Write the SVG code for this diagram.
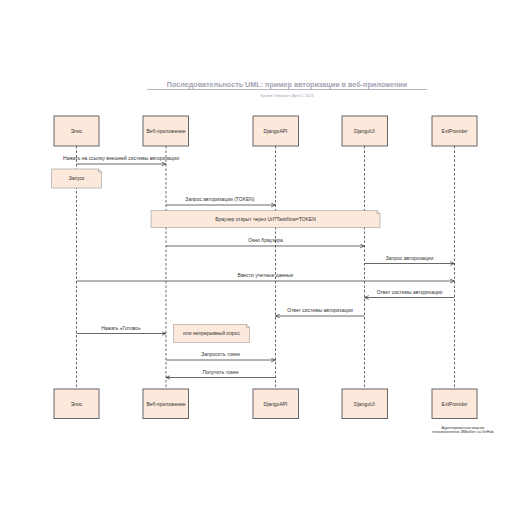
<svg xmlns="http://www.w3.org/2000/svg" width="516" height="516" viewBox="0 0 516 516">
<defs>
<style>
text{font-family:"Liberation Sans",Arial,sans-serif;fill:#333;}
.box{fill:#fde9dc;stroke:#666;stroke-width:1;}
.note{fill:#fde9dc;stroke:#999;stroke-width:0.6;}
.lbl{font-size:5px;text-anchor:middle;}
.msg{font-size:5px;text-anchor:middle;}
.life{stroke:#444;stroke-width:0.8;stroke-dasharray:2.5,2;fill:none;}
.arr{stroke:#444;stroke-width:0.8;fill:none;marker-end:url(#ah);}
</style>
<marker id="ah" viewBox="0 0 8 8" refX="7" refY="4" markerWidth="5" markerHeight="5" orient="auto" markerUnits="userSpaceOnUse">
<path d="M0,1 L7,4 L0,7" fill="none" stroke="#444" stroke-width="1.2"/>
</marker>
</defs>
<rect width="516" height="516" fill="#fff"/>
<g id="title">
<text x="287" y="87" style="font-size:7.2px;font-weight:bold;fill:#a3a3b3;text-anchor:middle">Последовательность UML: пример авторизации в веб-приложении</text>
<line x1="147" y1="89.5" x2="427" y2="89.5" stroke="#a3a3b3" stroke-width="0.8"/>
<text x="287" y="96.5" style="font-size:3.8px;fill:#a3a3b3;text-anchor:middle">System Template  |  April 5, 2023</text>
</g>
<g id="lifelines">
<line class="life" x1="76.5" y1="146" x2="76.5" y2="389"/>
<line class="life" x1="166" y1="146" x2="166" y2="389"/>
<line class="life" x1="275.5" y1="146" x2="275.5" y2="389"/>
<line class="life" x1="364.5" y1="146" x2="364.5" y2="389"/>
<line class="life" x1="454.5" y1="146" x2="454.5" y2="389"/>
</g>
<g id="p-elis-top"><rect class="box" x="54" y="116" width="45" height="30"/><text class="lbl" x="76.5" y="132.5">Элис</text></g>
<g id="p-web-top"><rect class="box" x="143" y="116" width="45.5" height="30"/><text class="lbl" x="166" y="132.5">Веб-приложение</text></g>
<g id="p-api-top"><rect class="box" x="253" y="116" width="45.5" height="30"/><text class="lbl" x="275.5" y="132.5">DjangoAPI</text></g>
<g id="p-ui-top"><rect class="box" x="342" y="116" width="45.5" height="30"/><text class="lbl" x="364.5" y="132.5">DjangoUI</text></g>
<g id="p-ext-top"><rect class="box" x="432" y="116" width="45" height="30"/><text class="lbl" x="454.5" y="132.5">ExtProvider</text></g>
<g id="p-elis-bot"><rect class="box" x="54" y="389" width="45" height="29.5"/><text class="lbl" x="76.5" y="405.5">Элис</text></g>
<g id="p-web-bot"><rect class="box" x="143" y="389" width="45.5" height="29.5"/><text class="lbl" x="166" y="405.5">Веб-приложение</text></g>
<g id="p-api-bot"><rect class="box" x="253" y="389" width="45.5" height="29.5"/><text class="lbl" x="275.5" y="405.5">DjangoAPI</text></g>
<g id="p-ui-bot"><rect class="box" x="342" y="389" width="45.5" height="29.5"/><text class="lbl" x="364.5" y="405.5">DjangoUI</text></g>
<g id="p-ext-bot"><rect class="box" x="432" y="389" width="45" height="29.5"/><text class="lbl" x="454.5" y="405.5">ExtProvider</text></g>
<g id="note-zapusk"><path class="note" d="M51.5,169 H98.5 L101.5,172 V188 H51.5 Z"/><path d="M98.5,169 V172 H101.5" fill="none" stroke="#999" stroke-width="0.6"/><text class="msg" x="76.5" y="180">Запуск</text></g>
<g id="note-browser"><path class="note" d="M151,210.5 H377 L380,213.5 V227.5 H151 Z"/><path d="M377,210.5 V213.5 H380" fill="none" stroke="#999" stroke-width="0.6"/><text class="msg" x="265.5" y="220.5">Браузер открыт через Url?Taskflow=TOKEN</text></g>
<g id="note-poll"><path class="note" d="M173.5,324.5 H246.5 L249.5,327.5 V342.5 H173.5 Z"/><path d="M246.5,324.5 V327.5 H249.5" fill="none" stroke="#999" stroke-width="0.6"/><text class="msg" x="211.5" y="335">или непрерывный опрос</text></g>
<g id="connectors">
<line class="arr" x1="76.5" y1="164" x2="166" y2="164"/>
<text class="msg" x="121" y="160">Нажать на ссылку внешней системы авторизации</text>
<line class="arr" x1="166" y1="205" x2="275.5" y2="205"/>
<text class="msg" x="220" y="201">Запрос авторизации (TOKEN)</text>
<line class="arr" x1="166" y1="246" x2="364.5" y2="246"/>
<text class="msg" x="265.5" y="242">Окно браузера</text>
<line class="arr" x1="364.5" y1="263.5" x2="454.5" y2="263.5"/>
<text class="msg" x="409.5" y="259.5">Запрос авторизации</text>
<line class="arr" x1="76.5" y1="281" x2="454.5" y2="281"/>
<text class="msg" x="265.5" y="277">Ввести учетные данные</text>
<line class="arr" x1="454.5" y1="297.5" x2="364.5" y2="297.5"/>
<text class="msg" x="409.5" y="293.5">Ответ системы авторизации</text>
<line class="arr" x1="364.5" y1="316" x2="275.5" y2="316"/>
<text class="msg" x="320" y="312">Ответ системы авторизации</text>
<line class="arr" x1="76.5" y1="333.5" x2="166" y2="333.5"/>
<text class="msg" x="121" y="329.5">Нажать «Готово»</text>
<line class="arr" x1="166" y1="360" x2="275.5" y2="360"/>
<text class="msg" x="220.5" y="356">Запросить токен</text>
<line class="arr" x1="275.5" y1="377.5" x2="166" y2="377.5"/>
<text class="msg" x="220.5" y="373.5">Получить токен</text>
</g>
<g id="footer">
<text x="463" y="428.5" style="font-size:3.8px;text-anchor:middle">Адаптированная версия</text>
<text x="463" y="433" style="font-size:3.8px;text-anchor:middle">пользователем JBBahler на GitHub</text>
</g>
</svg>
